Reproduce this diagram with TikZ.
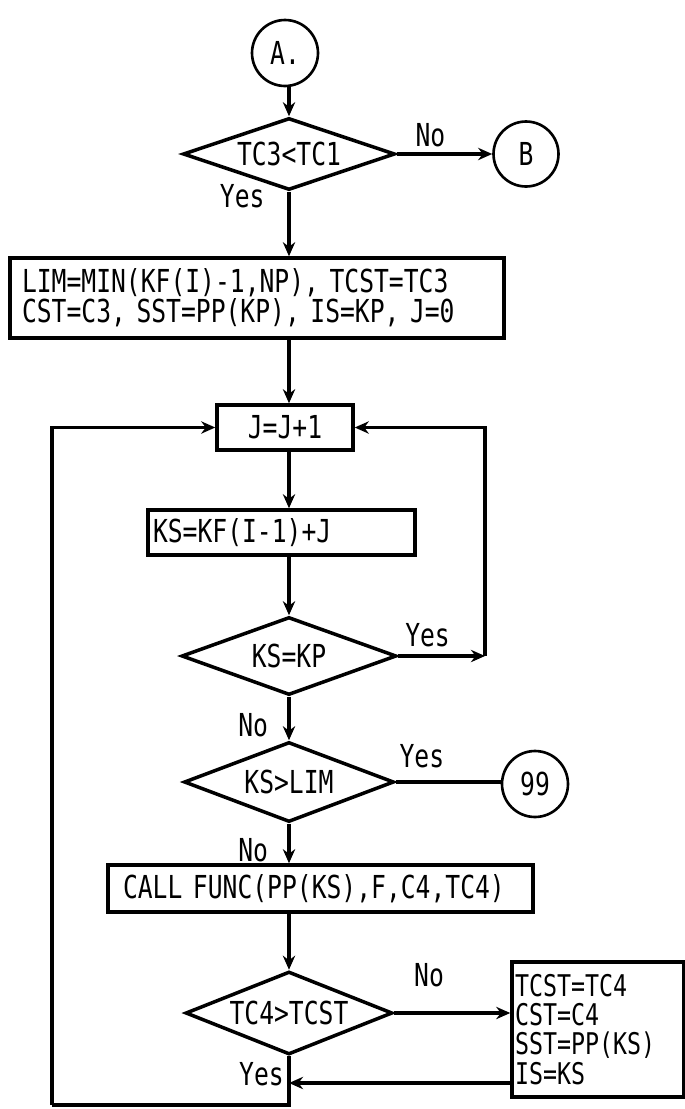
\documentclass[tikz,border=0pt]{standalone}
\usepackage{fontspec}
\setmainfont[FakeStretch=0.78]{DejaVu Sans Mono}
\usetikzlibrary{positioning, arrows.meta, shapes.geometric}
\tikzset{
  >={Stealth[length=8pt, width=7pt]},
  every node/.style={font=\fontsize{18}{15}\selectfont},
  process/.style={
    rectangle, draw, line width=2pt, align=left, inner ysep=0pt
  },
  decision/.style={
    diamond, draw, line width=2pt, aspect=3, inner sep=0pt
  },
  connector/.style={
    circle, draw, line width=1.5pt, inner sep=0pt, minimum size=1.32cm
  },
  flowarrow/.style={->, line width=2pt},
  flowline/.style={line width=2pt},
  branchlabel/.style={inner sep=1pt}
}

\begin{document}
\begin{tikzpicture}[x=0.02cm, y=-0.02cm]
\useasboundingbox (0,0) rectangle (685,1109);

% Entry and first test
\node[connector] (conA) at (285,53) {A.};
\node[decision, minimum width=4.24cm, minimum height=1.44cm] (decA) at (289,154) {TC3<TC1};
\node[connector, minimum size=1.3cm] (conB) at (526,154) {B};

% Initialisation
\node[process, minimum height=1.6cm, text width=9.4cm, inner xsep=0.24cm,
  font=\fontsize{18}{14.2}\selectfont] (initbox) at (257,298)
  {LIM=MIN(KF(I)-1,NP), TCST=TC3\\CST=C3, SST=PP(KP), IS=KP, J=0};

% Loop body
\node[process, minimum width=2.72cm, minimum height=0.9cm, align=center] (incbox) at (285,427.5) {J=J+1};
\node[process, minimum height=0.9cm, text width=5.14cm, inner xsep=0.1cm] (ksbox) at (281.5,532.5) {KS=KF(I-1)+J};
\node[decision, minimum width=4.3cm, minimum height=1.56cm] (decKP) at (289,656) {KS=KP};
\node[decision, minimum width=4.2cm, minimum height=1.6cm] (decLIM) at (289,782) {KS>LIM};
\node[connector] (con99) at (535,784) {99};
\node[process, minimum height=0.94cm, text width=7.9cm, inner xsep=0.3cm] (callbox) at (320.5,888.5)
  {CALL FUNC(PP(KS),F,C4,TC4)};
\node[decision, minimum width=4.14cm, minimum height=1.66cm] (decTC) at (289,1013) {TC4>TCST};
\node[process, minimum height=2.7cm, text width=3.32cm, inner xsep=0.06cm,
  font=\fontsize{17}{16.6}\selectfont] (updbox) at (598,1029.5)
  {TCST=TC4\\CST=C4\\SST=PP(KS)\\IS=KS};

% Turning points
\coordinate (kpturn) at (485,656);
\coordinate (retpt) at (289,1083);
\coordinate (botleft) at (52,1105);

% Connectors
\draw[flowarrow] (conA.south -| decA.north) -- (decA.north);
\draw[flowarrow] (decA.east) -- node[branchlabel, above=2pt, xshift=-8pt] {No} (conB.west);
\draw[flowarrow] (decA.south) -- node[branchlabel, pos=0.07, left=0.42cm] {Yes} (decA.south |- initbox.north);
\draw[flowarrow] (decA.south |- initbox.south) -- (incbox.north -| decA.south);
\draw[flowarrow] (incbox.south -| decA.south) -- (ksbox.north -| decA.south);
\draw[flowarrow] (ksbox.south -| decKP.north) -- (decKP.north);
\draw[flowarrow] (decKP.east) -- node[branchlabel, above=3pt, xshift=-8pt] {Yes} (kpturn);
\draw[flowarrow] (kpturn) |- (incbox.east);
\draw[flowarrow] (decKP.south) -- node[branchlabel, left=0.35cm, yshift=-4pt] {No} (decLIM.north);
\draw[flowline] (decLIM.east) -- node[branchlabel, above=0.22cm, xshift=-15pt] {Yes} (con99.west |- decLIM.east);
\draw[flowarrow] (decLIM.south) -- node[branchlabel, left=0.35cm, yshift=-4pt] {No} (decLIM.south |- callbox.north);
\draw[flowarrow] (decTC.north |- callbox.south) -- (decTC.north);
\draw[flowarrow] (decTC.east) -- node[branchlabel, pos=0.3, above=0.45cm] {No} (updbox.west |- decTC.east);
\draw[flowarrow] (updbox.west |- retpt) -- (retpt) node[branchlabel, left=1pt, yshift=5pt] {Yes};
\draw[flowline] (decTC.south) |- (botleft);
\draw[flowarrow] (botleft) |- (incbox.west);

\end{tikzpicture}
\end{document}
